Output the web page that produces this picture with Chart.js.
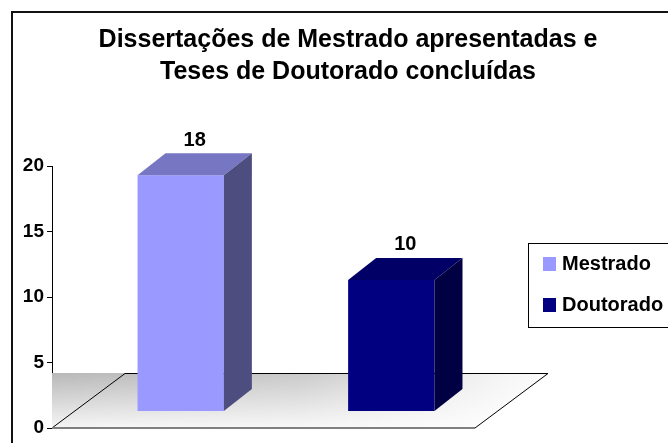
<!DOCTYPE html>
<html>
<head>
<meta charset="utf-8">
<script src="https://cdn.jsdelivr.net/npm/chart.js@4"></script>
<style>
html, body { margin: 0; padding: 0; overflow: hidden; background: #fff; }
#wrap { width: 696px; height: 443px; }
</style>
</head>
<body>
<div id="wrap"><canvas id="myChart"></canvas></div>
<script>
// dados
const categories = [''];
const seriesNames = ['Mestrado', 'Doutorado'];
const mestrado = [18];
const doutorado = [10];
const yTicks = [0, 5, 10, 15, 20];

const FONT = '"Liberation Sans", Arial, sans-serif';

// efeito 3D das barras (faces de cima e lateral) + rótulos
const bars3d = {
	id: 'bars3d',
	afterDatasetsDraw(chart) {
		const ctx = chart.ctx;
		const dx = 28, dy = -22;
		ctx.save();
		chart.data.datasets.forEach((ds, i) => {
			const meta = chart.getDatasetMeta(i);
			meta.data.forEach((bar, j) => {
				const p = bar.getProps(['x', 'y', 'base', 'width'], true);
				const l = p.x - p.width / 2, r = p.x + p.width / 2;
				// topo
				ctx.fillStyle = ds.topColor;
				ctx.beginPath();
				ctx.moveTo(l, p.y);
				ctx.lineTo(r, p.y);
				ctx.lineTo(r + dx, p.y + dy);
				ctx.lineTo(l + dx, p.y + dy);
				ctx.closePath();
				ctx.fill();
				// lateral
				ctx.fillStyle = ds.sideColor;
				ctx.beginPath();
				ctx.moveTo(r, p.y);
				ctx.lineTo(r + dx, p.y + dy);
				ctx.lineTo(r + dx, p.base + dy);
				ctx.lineTo(r, p.base);
				ctx.closePath();
				ctx.fill();
				// rótulo
				ctx.fillStyle = '#000';
				ctx.font = 'bold 20px ' + FONT;
				ctx.textAlign = 'center';
				ctx.textBaseline = 'middle';
				ctx.fillText(String(ds.data[j]), p.x + dx / 2, p.y + dy - 13);
			});
		});
		ctx.restore();
	}
};

// piso cinza
const floor = {
	id: 'floor',
	beforeDatasetsDraw(chart) {
		const ctx = chart.ctx;
		const L = chart.chartArea.left;
		const y0 = chart.scales.y.getPixelForValue(0);
		const dx = 73, dy = -55, w = 423;
		ctx.save();
		ctx.beginPath();
		ctx.moveTo(L, y0 + dy);
		ctx.lineTo(L + w + dx, y0 + dy);
		ctx.lineTo(L + w, y0);
		ctx.lineTo(L, y0);
		ctx.closePath();
		const g = ctx.createLinearGradient(0, y0 + dy, 0, y0);
		g.addColorStop(0, '#b8b8b8');
		g.addColorStop(1, '#f6f6f6');
		ctx.fillStyle = g;
		ctx.fill();
		const h = ctx.createLinearGradient(L, 0, L + w + dx, 0);
		h.addColorStop(0, 'rgba(255,255,255,0)');
		h.addColorStop(0.5, 'rgba(255,255,255,0.25)');
		h.addColorStop(0.9, 'rgba(255,255,255,0.85)');
		h.addColorStop(1, 'rgba(255,255,255,0.95)');
		ctx.fillStyle = h;
		ctx.fill();

		ctx.strokeStyle = '#000';
		ctx.lineWidth = 1;
		ctx.beginPath();
		ctx.moveTo(L, y0);
		ctx.lineTo(L + dx, y0 + dy + 0.5);
		ctx.lineTo(L + w + dx, y0 + dy + 0.5);
		ctx.lineTo(L + w, y0);
		ctx.stroke();

		ctx.strokeStyle = '#808080';
		ctx.lineWidth = 2;
		ctx.beginPath();
		ctx.moveTo(L, y0);
		ctx.lineTo(L + w, y0);
		ctx.stroke();
		ctx.restore();
	}
};

// legenda com moldura e borda externa
const frame = {
	id: 'frame',
	afterDraw(chart) {
		const ctx = chart.ctx;
		ctx.save();
		ctx.strokeStyle = '#111';
		ctx.lineWidth = 2;
		ctx.strokeRect(12, 12, 672, 500);

		const bx = chart.chartArea.right + 8, by = 243;
		ctx.strokeStyle = '#000';
		ctx.lineWidth = 1;
		ctx.strokeRect(bx + 0.5, by + 0.5, 200, 84);
		ctx.font = 'bold 20px ' + FONT;
		ctx.textAlign = 'left';
		ctx.textBaseline = 'middle';
		chart.data.datasets.forEach((ds, i) => {
			const cy = by + 21 + i * 41;
			ctx.fillStyle = ds.backgroundColor;
			ctx.fillRect(bx + 15, cy - 7, 13, 14);
			ctx.fillStyle = '#000';
			ctx.fillText(ds.label, bx + 34, cy);
		});
		ctx.restore();
	}
};

const ctx = document.getElementById('myChart').getContext('2d');
const myChart = new Chart(ctx, {
	type: 'bar',
	data: {
		labels: categories,
		datasets: [{
			label: seriesNames[0],
			data: mestrado,
			backgroundColor: '#9999FF',
			topColor: '#7676C2',
			sideColor: '#4D4D80',
			yAxisID: 'yb'
		}, {
			label: seriesNames[1],
			data: doutorado,
			backgroundColor: '#000080',
			topColor: '#000066',
			sideColor: '#000042',
			yAxisID: 'yb'
		}]
	},
	options: {
		responsive: true,
		maintainAspectRatio: false,
		animation: false,
		events: [],
		layout: { padding: { top: 12, left: 12, right: 12, bottom: 15 } },
		datasets: { bar: { categoryPercentage: 0.9, barPercentage: 0.41, borderWidth: 0 } },
		plugins: {
			legend: { display: false },
			tooltip: { enabled: false },
			title: {
				display: true,
				text: ['Dissertações de Mestrado apresentadas e', 'Teses de Doutorado concluídas'],
				color: '#000',
				font: { family: FONT, size: 25, weight: 'bold', lineHeight: 32 / 25 },
				padding: { top: 12, bottom: 78 }
			}
		},
		scales: {
			x: { display: false },
			y: {
				position: 'left',
				min: yTicks[0],
				max: yTicks[yTicks.length - 1],
				ticks: { stepSize: yTicks[1] - yTicks[0], color: '#000', padding: 3, font: { family: FONT, size: 19, weight: 'bold' } },
				grid: { drawOnChartArea: false, drawTicks: true, tickLength: 5, color: '#000' },
				border: { display: true, color: '#000' },
				afterFit(scale) { scale.width = 40; }
			},
			yb: {
				position: 'right',
				min: -1.3,
				max: 18.7,
				ticks: { display: false },
				grid: { display: false },
				border: { display: false },
				afterFit(scale) { scale.width = 164; }
			}
		}
	},
	plugins: [floor, bars3d, frame]
});
</script>
</body>
</html>
